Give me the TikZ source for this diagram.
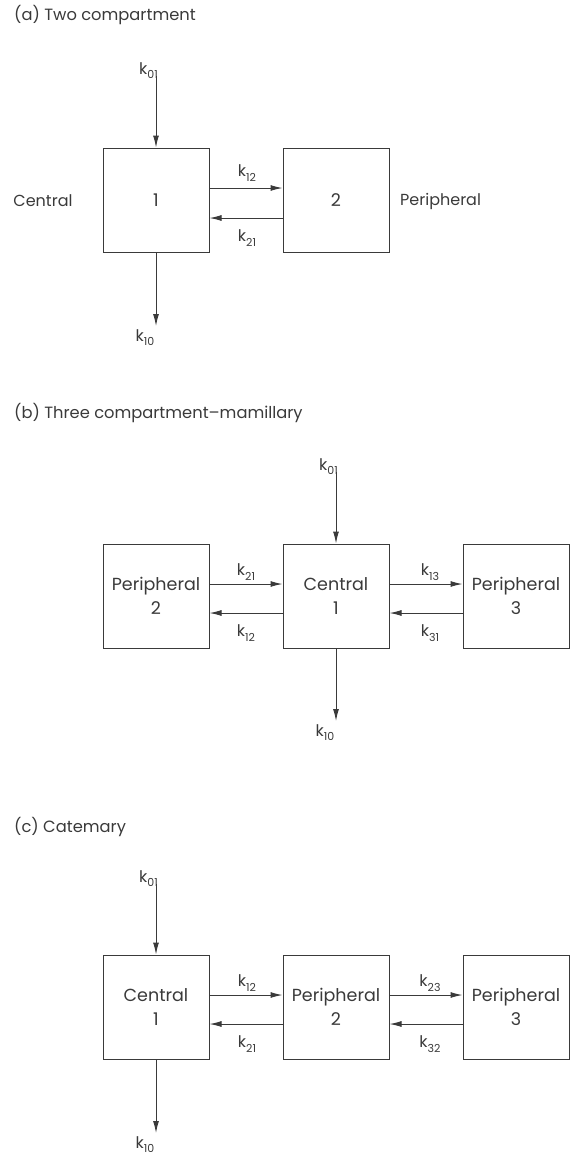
\documentclass[tikz,border=0pt]{standalone}
\usepackage{fontspec}
\setmainfont{Poppins}
\usetikzlibrary{arrows.meta}
\definecolor{ink}{HTML}{3A3A3A}
\newcommand\kk[1]{k\raisebox{-0.5ex}{\fontsize{11}{11}\selectfont #1}}
\begin{document}
\begin{tikzpicture}[x=1pt,y=-1pt,
  box/.style={draw=ink, line width=1pt, minimum width=106pt, minimum height=104pt,
    inner sep=0pt, align=center, font=\fontsize{17.5}{24}\selectfont, text=ink},
  flow/.style={draw=ink, line width=1pt, -{Latex[length=12pt,width=6pt]}},
  lab/.style={font=\fontsize{16}{16}\selectfont, text=ink, inner sep=0pt},
  ttl/.style={font=\fontsize{16.3}{16}\selectfont, text=ink, anchor=west, inner sep=0pt}]
\useasboundingbox (0,0) rectangle (572,1157);
% ---------- (a)
\node[ttl] (ta) at (14,15) {(a) Two compartment};
\node[box] (a1) at (156,200) {1};
\node[box] (a2) at (336,200) {2};
\node[lab] (ac) at (43,201) {Central};
\node[lab, anchor=west] (ap) at (400,201) {Peripheral};
\coordinate (a01) at (156,76);
\node[lab, anchor=south east] (ak01) at (158,79) {\kk{01}};
\draw[flow] (a01) -- (a1.north);
\draw[flow] (a1.east |- 0,188) -- (a2.west |- 0,188);
\draw[flow] (a2.west |- 0,218) -- (a1.east |- 0,218);
\node[lab] (ak12) at (247,173) {\kk{12}};
\node[lab] (ak21) at (247,238) {\kk{21}};
\coordinate (a10) at (156,326);
\draw[flow] (a1.south) -- (a10);
\node[lab, anchor=north] (ak10) at (145,329) {\kk{10}};
% ---------- (b)
\node[ttl] (tb) at (14,413) {(b) Three compartment--mamillary};
\node[box] (b2) at (156,596) {Peripheral\\2};
\node[box] (b1) at (336,596) {Central\\1};
\node[box] (b3) at (516,596) {Peripheral\\3};
\coordinate (b01) at (336,472);
\node[lab, anchor=south east] (bk01) at (338,475) {\kk{01}};
\draw[flow] (b01) -- (b1.north);
\draw[flow] (b2.east |- 0,584) -- (b1.west |- 0,584);
\draw[flow] (b1.west |- 0,613) -- (b2.east |- 0,613);
\draw[flow] (b1.east |- 0,584) -- (b3.west |- 0,584);
\draw[flow] (b3.west |- 0,613) -- (b1.east |- 0,613);
\node[lab] (bk21) at (246,572) {\kk{21}};
\node[lab] (bk12) at (246,633) {\kk{12}};
\node[lab] (bk13) at (430,572) {\kk{13}};
\node[lab] (bk31) at (430,633) {\kk{31}};
\coordinate (b10) at (336,721);
\draw[flow] (b1.south) -- (b10);
\node[lab, anchor=north] (bk10) at (325,724) {\kk{10}};
% ---------- (c)
\node[ttl] (tc) at (14,827) {(c) Catemary};
\node[box] (c1) at (156,1007) {Central\\1};
\node[box] (c2) at (336,1007) {Peripheral\\2};
\node[box] (c3) at (516,1007) {Peripheral\\3};
\coordinate (c01) at (156,884);
\node[lab, anchor=south east] (ck01) at (158,887) {\kk{01}};
\draw[flow] (c01) -- (c1.north);
\draw[flow] (c1.east |- 0,995) -- (c2.west |- 0,995);
\draw[flow] (c2.west |- 0,1024) -- (c1.east |- 0,1024);
\draw[flow] (c2.east |- 0,995) -- (c3.west |- 0,995);
\draw[flow] (c3.west |- 0,1024) -- (c2.east |- 0,1024);
\node[lab] (ck12) at (247,983) {\kk{12}};
\node[lab] (ck21) at (247,1044) {\kk{21}};
\node[lab] (ck23) at (430,983) {\kk{23}};
\node[lab] (ck32) at (430,1044) {\kk{32}};
\coordinate (c10) at (156,1133);
\draw[flow] (c1.south) -- (c10);
\node[lab, anchor=north] (ck10) at (145,1136) {\kk{10}};
\end{tikzpicture}
\end{document}
